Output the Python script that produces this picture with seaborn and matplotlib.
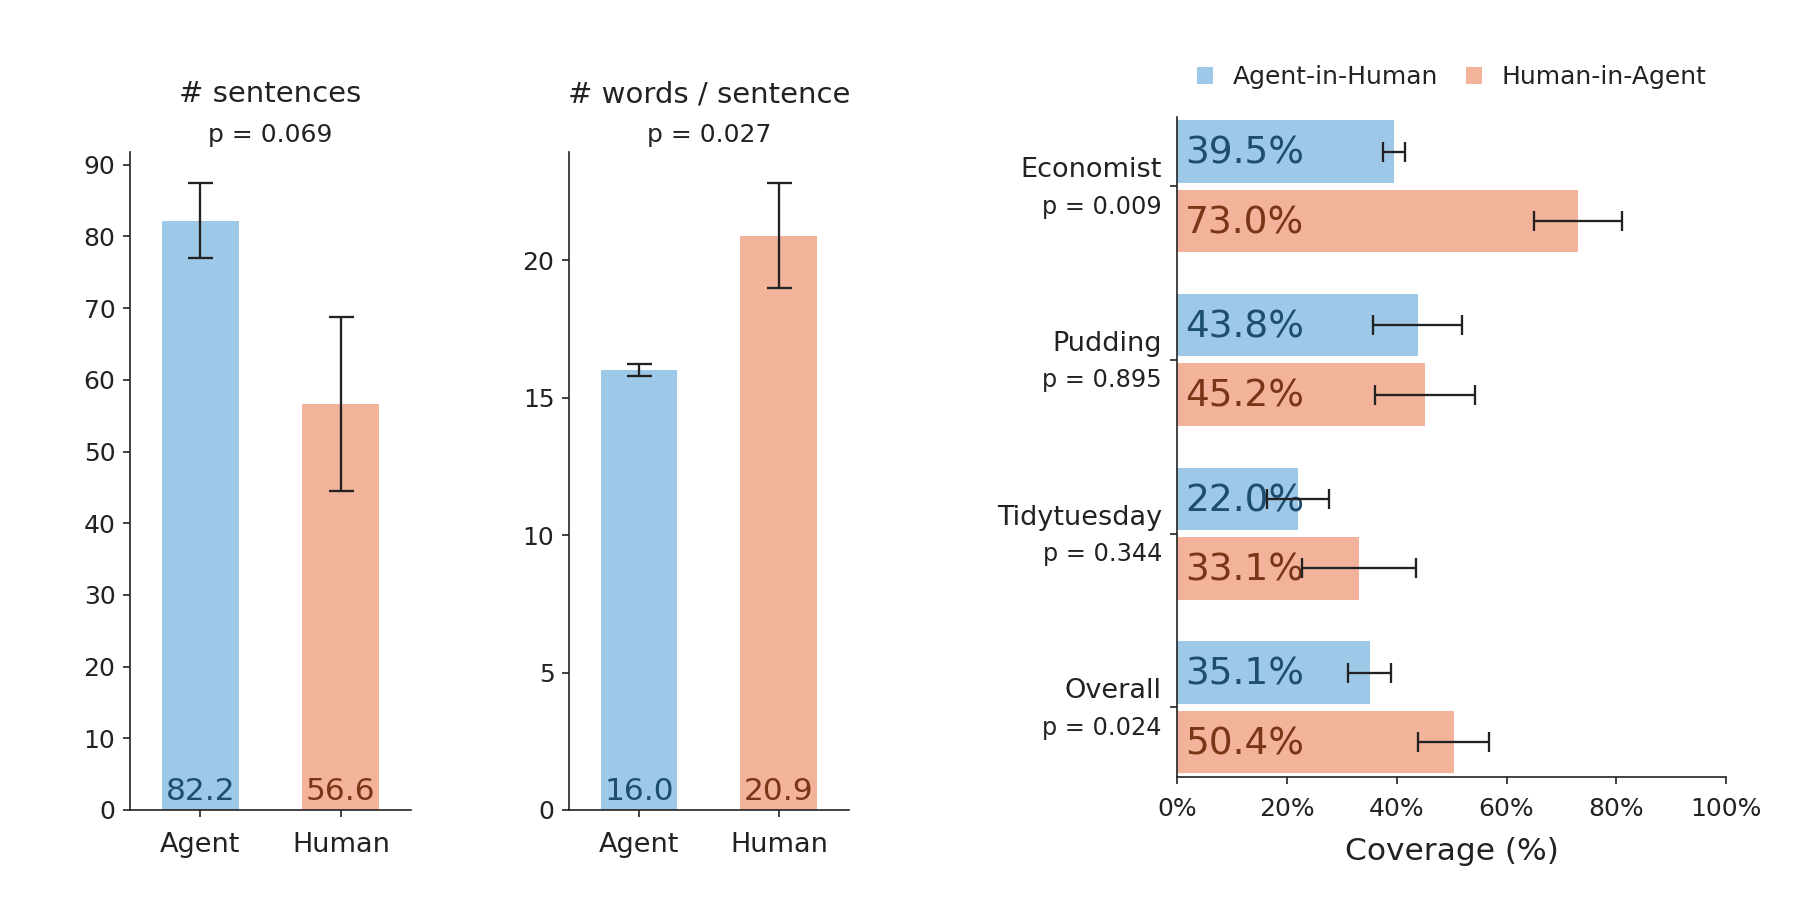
import matplotlib
matplotlib.use("Agg")
import matplotlib.pyplot as plt
import seaborn as sns
import pandas as pd

# ---- data ----
groups = ["Agent", "Human"]
sent_mean = [82.2, 56.6]
sent_err = [5.2, 12.1]
sent_p = "p = 0.069"
wps_mean = [16.0, 20.9]
wps_err = [0.22, 1.9]
wps_p = "p = 0.027"

sources = ["Economist", "Pudding", "Tidytuesday", "Overall"]
source_p = ["p = 0.009", "p = 0.895", "p = 0.344", "p = 0.024"]
directions = ["Agent-in-Human", "Human-in-Agent"]
agent_in_human = [39.5, 43.8, 22.0, 35.1]
agent_in_human_err = [2.0, 8.1, 5.6, 3.95]
human_in_agent = [73.0, 45.2, 33.1, 50.4]
human_in_agent_err = [8.0, 9.1, 10.4, 6.45]

blue, orange = "#9ec8e7", "#f3b39b"
blue_txt, orange_txt = "#1d4e70", "#7a3416"
ink = "#222222"

sns.set_style("ticks")
plt.rcParams["font.family"] = ["DejaVu Sans"]
plt.rcParams["text.color"] = ink
plt.rcParams["axes.labelcolor"] = ink
plt.rcParams["xtick.color"] = ink
plt.rcParams["ytick.color"] = ink
plt.rcParams["axes.edgecolor"] = ink

fig = plt.figure(figsize=(1799 / 150, 899 / 150), dpi=150)
ax1 = fig.add_axes([0.0723, 0.0990, 0.1562, 0.7319])
ax2 = fig.add_axes([0.3163, 0.0990, 0.1556, 0.7319])
ax3 = fig.add_axes([0.6543, 0.1360, 0.3052, 0.7341])


def small_panel(ax, means, errs, title, ptext, yticks):
    sns.barplot(x=groups, y=means, hue=groups, palette=[blue, orange],
                width=0.55, saturation=1, linewidth=0, legend=False, ax=ax)
    xs = [b.get_x() + b.get_width() / 2 for b in ax.patches]
    ax.errorbar(xs, means, yerr=errs, fmt="none", ecolor=ink,
                elinewidth=1.1, capsize=6, capthick=1.1, zorder=3)
    for x, m, c in zip(xs, means, [blue_txt, orange_txt]):
        ax.annotate(f"{m:.1f}", xy=(x, 0), xytext=(0, 4.8), textcoords="offset points",
                    ha="center", va="baseline", fontsize=15, color=c)
    top = max(m + e for m, e in zip(means, errs)) * 1.05
    ax.set_ylim(0, top)
    ax.set_xlim(-0.5, 1.5)
    ax.set_yticks(yticks)
    ax.tick_params(axis="y", labelsize=12)
    ax.tick_params(axis="x", labelsize=13, pad=7)
    ax.set_title(title, fontsize=14, pad=24)
    ax.annotate(ptext, xy=(0.5, 1.0), xycoords="axes fraction", xytext=(0, 4.9),
                textcoords="offset points", ha="center", va="baseline", fontsize=12)
    sns.despine(ax=ax)


small_panel(ax1, sent_mean, sent_err, "# sentences", sent_p, range(0, 91, 10))
small_panel(ax2, wps_mean, wps_err, "# words / sentence", wps_p, range(0, 21, 5))

# ---- coverage panel ----
df = pd.DataFrame({
    "source": sources * 2,
    "direction": [directions[0]] * 4 + [directions[1]] * 4,
    "coverage": agent_in_human + human_in_agent,
})
sns.barplot(data=df, y="source", x="coverage", hue="direction", orient="h",
            palette=[blue, orange], width=0.8, gap=0.1, saturation=1,
            linewidth=0, errorbar=None, ax=ax3)

for cont, vals, errs, tc in zip(ax3.containers,
                                [agent_in_human, human_in_agent],
                                [agent_in_human_err, human_in_agent_err],
                                [blue_txt, orange_txt]):
    ys = [b.get_y() + b.get_height() / 2 for b in cont]
    for y, v in zip(ys, vals):
        ax3.annotate(f"{v:.1f}%", xy=(0, y), xytext=(3.8, -1.1), textcoords="offset points",
                     ha="left", va="center", fontsize=18, color=tc)
    ax3.errorbar(vals, ys, xerr=errs, fmt="none", ecolor=ink,
                 elinewidth=1.1, capsize=5, capthick=1.1, zorder=4)

ax3.set_ylim(3.4, -0.4)
ax3.set_xlim(0, 100)
ax3.set_xticks(range(0, 101, 20))
ax3.set_xticklabels([f"{t}%" for t in range(0, 101, 20)])
ax3.tick_params(axis="x", labelsize=12, pad=6)
ax3.set_yticks(range(len(sources)))
ax3.set_yticklabels([""] * len(sources))
ax3.set_ylabel("")
ax3.set_xlabel("Coverage (%)", fontsize=15, labelpad=8)
ytr = ax3.get_yaxis_transform()
for i, (name, p) in enumerate(zip(sources, source_p)):
    ax3.annotate(name, xy=(0, i), xycoords=ytr, xytext=(-7.3, 4.3),
                 textcoords="offset points", ha="right", va="baseline", fontsize=13)
    ax3.annotate(p, xy=(0, i), xycoords=ytr, xytext=(-7.3, -13.2),
                 textcoords="offset points", ha="right", va="baseline", fontsize=11.5)
sns.despine(ax=ax3)
sns.move_legend(ax3, "center", bbox_to_anchor=(0.5, 1.06), ncol=2, frameon=False,
                title=None, fontsize=12, handlelength=0.64, handleheight=0.64,
                handletextpad=0.8, columnspacing=1.1)

fig.savefig("out.png", dpi=150)
